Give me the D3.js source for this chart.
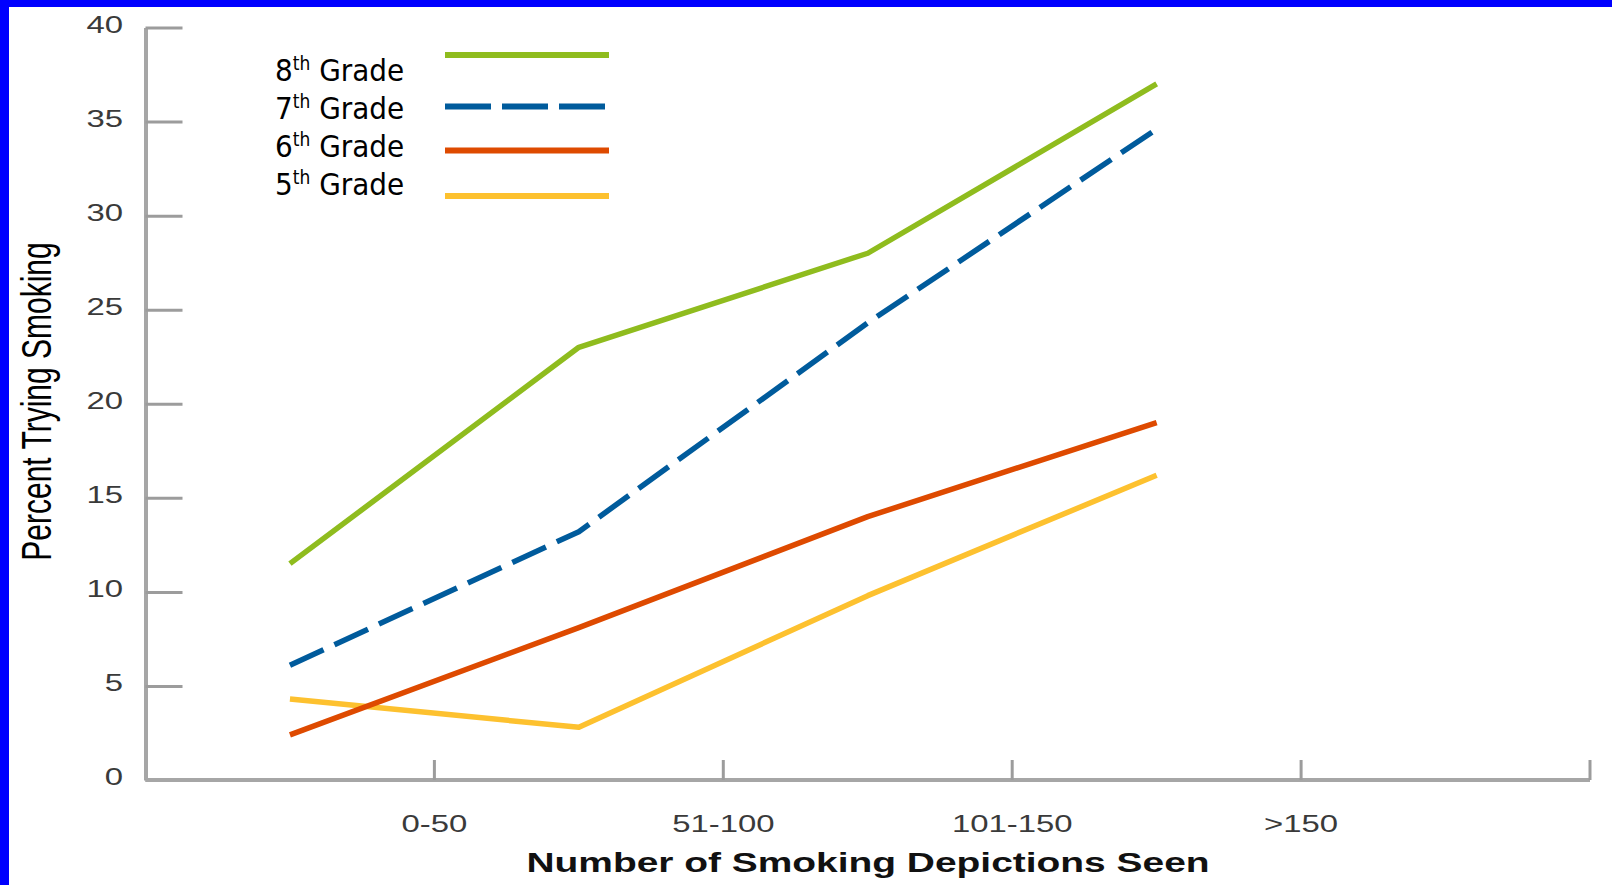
<!DOCTYPE html>
<html>
<head>
<meta charset="utf-8">
<script src="https://cdn.jsdelivr.net/npm/d3@7"></script>
<style>
  html, body { margin: 0; padding: 0; background: #fff; }
  svg { display: block; }
</style>
</head>
<body>
<svg id="chart" width="1612" height="885"></svg>
<script>
// ---- data ----
const categories = ["0-50", "51-100", "101-150", ">150"];
const seriesNames = ["8th Grade", "7th Grade", "6th Grade", "5th Grade"];
const grade8 = [11.5, 23.0, 28.0, 37.0];
const grade7 = [6.1, 13.2, 24.3, 34.6];
const grade6 = [2.4, 8.1, 14.0, 19.0];
const grade5 = [4.3, 2.8, 9.8, 16.2];
const yTicks = [0, 5, 10, 15, 20, 25, 30, 35, 40];
const xTitle = "Number of Smoking Depictions Seen";
const yTitle = "Percent Trying Smoking";

const colors = { "8th Grade": "#8fbc1e", "7th Grade": "#005b9c", "6th Grade": "#de4a00", "5th Grade": "#fdc12f" };
const dashes = { "8th Grade": null, "7th Grade": "37,12", "6th Grade": null, "5th Grade": null };

const svg = d3.select("#chart");
const W = 1612, H = 885;

// frame
svg.append("rect").attr("width", W).attr("height", H).attr("fill", "#0000ff");
svg.append("rect").attr("x", 9).attr("y", 7).attr("width", W - 9).attr("height", H - 7).attr("fill", "#ffffff");

// scales
const x = d3.scaleBand().domain([...categories, ""]).range([145.5, 1590]).paddingInner(0).paddingOuter(0);
const bw = x.bandwidth();
const y = d3.scaleLinear().domain([0, 40]).range([780, 27.5]);

const axisColor = "#a6a6a6";
const SX = 1.43; // horizontal stretch of original chart text

// y axis
const gy = svg.append("g").attr("transform", `translate(${x.range()[0]},0)`)
  .call(d3.axisLeft(y).tickValues(yTicks).tickSize(-37).tickSizeOuter(0).tickPadding(22.5));
gy.select(".domain").attr("stroke", axisColor).attr("stroke-width", 4);
gy.selectAll(".tick line").attr("stroke", "#9c9c9c").attr("stroke-width", 3);
gy.selectAll(".tick text")
  .attr("font-family", "'Liberation Sans', Arial, sans-serif")
  .attr("font-size", 23)
  .attr("fill", "#3a3a3a")
  .attr("dy", "0.2em")
  .attr("transform", function () {
    const tx = +this.getAttribute("x");
    this.setAttribute("x", 0);
    return `translate(${tx},0) scale(${SX},1)`;
  });

// x axis: ticks at band ends
const xTickVals = x.domain();
const gx = svg.append("g").attr("transform", `translate(0,${y(0)})`)
  .call(d3.axisBottom(x).tickValues(xTickVals).tickSize(-20).tickSizeOuter(0).tickPadding(36)
    .offset(0));
gx.selectAll(".tick").attr("transform", d => `translate(${x(d) + bw},0)`);
gx.select(".domain").attr("stroke", axisColor).attr("stroke-width", 4)
  .attr("d", `M${x.range()[0]},0H${x.range()[1]}`);
gx.selectAll(".tick line").attr("stroke", "#9c9c9c").attr("stroke-width", 3);
gx.selectAll(".tick text")
  .attr("font-family", "'Liberation Sans', Arial, sans-serif")
  .attr("font-size", 23)
  .attr("fill", "#3a3a3a")
  .attr("transform", `scale(${SX},1)`);

// axis titles
svg.append("text")
  .attr("transform", `translate(868,872) scale(1.39,1)`)
  .attr("text-anchor", "middle")
  .attr("font-family", "'Liberation Sans', Arial, sans-serif")
  .attr("font-weight", "bold")
  .attr("font-size", 28)
  .attr("fill", "#111")
  .text(xTitle);

svg.append("text")
  .attr("transform", `translate(51,401.5) scale(1.4,1) rotate(-90)`)
  .attr("text-anchor", "middle")
  .attr("font-family", "'Liberation Sans', Arial, sans-serif")
  .attr("font-size", 30)
  .attr("fill", "#000")
  .text(yTitle);

// lines
const seriesData = [
  { name: "5th Grade", values: grade5 },
  { name: "6th Grade", values: grade6 },
  { name: "7th Grade", values: grade7 },
  { name: "8th Grade", values: grade8 }
];
const line = d3.line()
  .x((d, i) => x(categories[i]) + bw / 2)
  .y(d => y(d));

svg.append("g").selectAll("path").data(seriesData).join("path")
  .attr("d", s => line(s.values))
  .attr("fill", "none")
  .attr("stroke", s => colors[s.name])
  .attr("stroke-width", 5.5)
  .attr("stroke-linejoin", "round")
  .attr("stroke-dasharray", s => dashes[s.name]);

// legend
const legY = d3.scalePoint().domain(seriesNames).range([81, 195]);
const legLineY = { "8th Grade": 55, "7th Grade": 106.5, "6th Grade": 150.5, "5th Grade": 196 };
const leg = svg.append("g");
seriesNames.forEach(name => {
  const t = leg.append("text")
    .attr("x", 275)
    .attr("y", legY(name))
    .attr("font-family", "'DejaVu Sans Condensed', 'DejaVu Sans', sans-serif")
    .attr("font-stretch", "condensed")
    .attr("font-size", 31)
    .attr("fill", "#000");
  const num = name.slice(0, 1), sup = name.slice(1, 3), rest = name.slice(3);
  t.append("tspan").text(num);
  t.append("tspan").attr("font-size", 19).attr("dy", -11).text(sup);
  t.append("tspan").attr("dy", 11).text(rest);

  leg.append("line")
    .attr("x1", 445).attr("x2", 609)
    .attr("y1", legLineY[name]).attr("y2", legLineY[name])
    .attr("stroke", colors[name])
    .attr("stroke-width", 6)
    .attr("stroke-dasharray", name === "7th Grade" ? "46,11" : null);
});
</script>
</body>
</html>
